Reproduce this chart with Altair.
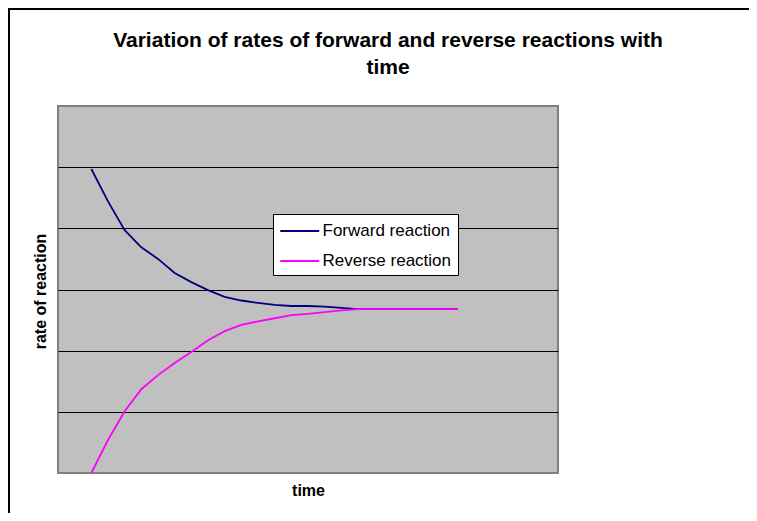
import altair as alt
import pandas as pd

# ---- data ----
time_points = list(range(2, 25))
forward = [4.97, 4.44, 3.97, 3.69, 3.50, 3.27, 3.12, 2.99, 2.88, 2.82, 2.78, 2.75,
           2.73, 2.73, 2.72, 2.70, 2.68, 2.68, 2.68, 2.68, 2.68, 2.68, 2.68]
reverse = [0.00, 0.54, 1.01, 1.37, 1.60, 1.80, 1.98, 2.17, 2.32, 2.42, 2.48, 2.53,
           2.58, 2.60, 2.63, 2.66, 2.68, 2.68, 2.68, 2.68, 2.68, 2.68, 2.68]
series = ["Forward reaction", "Reverse reaction"]
colors = ["#000080", "#FF00FF"]
title_lines = ["Variation of rates of forward and reverse reactions with", "time"]
x_title = "time"
y_title = "rate of reaction"
grid_values = [1, 2, 3, 4, 5]

rows = []
for t, v in zip(time_points, forward):
    rows.append({"time": t, "rate": v, "series": series[0]})
for t, v in zip(time_points, reverse):
    rows.append({"time": t, "rate": v, "series": series[1]})
df = pd.DataFrame(rows)

FONT = "Liberation Sans"

lines = alt.Chart(df).mark_line(strokeWidth=1.8).encode(
    x=alt.X("time:Q",
            scale=alt.Scale(domain=[0, 30], nice=False, zero=False),
            axis=alt.Axis(title=x_title, labels=False, ticks=False, domain=False, grid=False,
                          titleX=250, titleY=17, titleFontSize=16, titleFont=FONT,
                          titleFontWeight="bold", titleColor="black",
                          titleBaseline="middle", titleAlign="center")),
    y=alt.Y("rate:Q",
            scale=alt.Scale(domain=[0, 6], nice=False),
            axis=alt.Axis(title=y_title, labels=False, ticks=False, domain=False, grid=True,
                          values=grid_values, gridColor="black", gridWidth=1, gridOpacity=1,
                          titleX=-18, titleY=185, titleAngle=270, titleFontSize=16,
                          titleFont=FONT, titleFontWeight="bold", titleColor="black",
                          titleBaseline="middle", titleAlign="center")),
    color=alt.Color("series:N",
                    scale=alt.Scale(domain=series, range=colors),
                    legend=alt.Legend(title=None, orient="none", legendX=215, legendY=108,
                                      fillColor="white", strokeColor="black", padding=6,
                                      labelFontSize=17, labelFont=FONT, labelColor="black",
                                      symbolType="M-1,0L3,0", symbolSize=380,
                                      symbolStrokeWidth=2, rowPadding=11, labelOffset=21.5)),
)

frame_df = pd.DataFrame({"k": [0]})
left_border = alt.Chart(frame_df).mark_rule(color="black", strokeWidth=2).encode(
    x=alt.value(-49), y=alt.value(-98), y2=alt.value(420))
top_border = alt.Chart(frame_df).mark_rule(color="black", strokeWidth=2).encode(
    x=alt.value(-50), x2=alt.value(700), y=alt.value(-97))

chart = alt.layer(lines, left_border, top_border).properties(
    width=500,
    height=367,
    autosize=alt.AutoSizeParams(type="none"),
    padding={"left": 50, "top": 98, "right": 191, "bottom": 40},
    background="white",
    title=alt.Title(title_lines, fontSize=21, font=FONT, fontWeight="bold", color="black",
                    anchor="middle", dx=80, offset=0, dy=71, lineHeight=27),
).configure_view(fill="#C0C0C0", stroke="#808080", strokeWidth=2)

chart.save("out.html", embed_options={"renderer": "svg", "actions": False})
